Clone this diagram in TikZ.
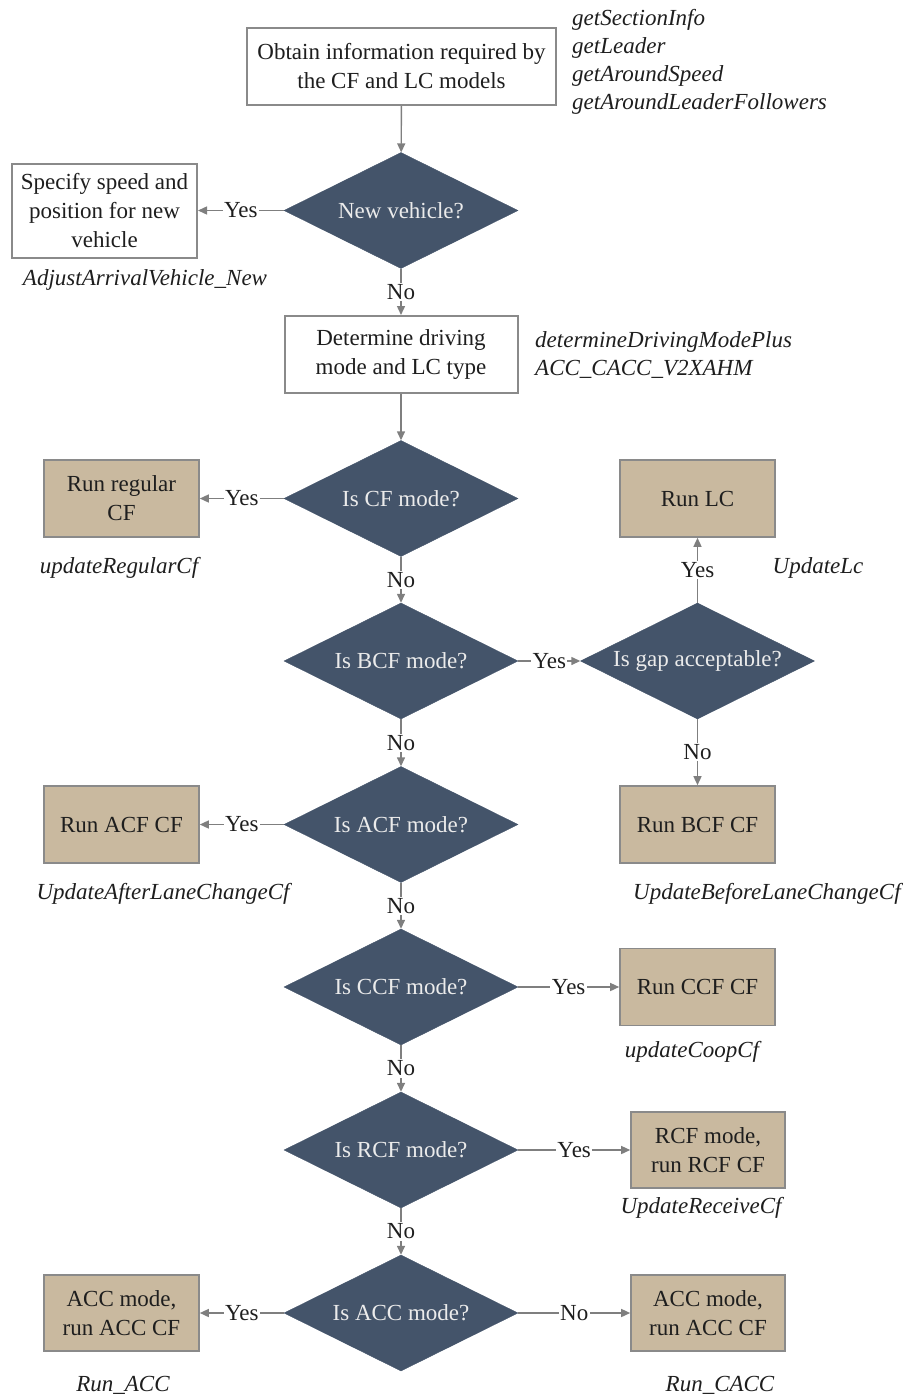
\documentclass[tikz,border=0pt]{standalone}
\usepackage{fontspec}
\setmainfont{Liberation Serif}
\usetikzlibrary{shapes.geometric,arrows.meta}
\definecolor{slate}{HTML}{44546A}
\definecolor{sand}{HTML}{C9B99F}
\definecolor{edgegray}{HTML}{8A8A8A}
\definecolor{linegray}{HTML}{7F7F7F}
\definecolor{inkgray}{HTML}{1E1E1E}

\begin{document}
\begin{tikzpicture}[x=1pt,y=-1pt,
  every node/.style={font=\fontsize{23}{29}\selectfont, text=inkgray},
  whitebox/.style={draw=edgegray, line width=2pt, fill=white, align=center, inner sep=0pt},
  sandbox/.style={draw=edgegray, line width=1.6pt, fill=sand, align=center, inner sep=0pt,
    minimum width=155pt, minimum height=77pt},
  decision/.style={diamond, fill=slate, draw=slate, inner sep=0pt, aspect=2,
    minimum width=234pt, minimum height=116pt, text=white!92!black},
  fname/.style={font=\fontsize{23}{28}\selectfont\itshape, align=left, inner sep=0pt},
  flow/.style={draw=linegray, line width=1.4pt,
    -{Triangle[length=9pt,width=8pt]}},
  lbl/.style={fill=white, inner sep=1.5pt}]

\useasboundingbox (0,0) rectangle (902,1397);

% processing boxes
\node[whitebox, minimum width=309pt, minimum height=77pt] (info) at (401.5,66.5)
  {Obtain information required by\\the CF and LC models};
\node[whitebox, minimum width=185pt, minimum height=94pt] (spec) at (104.5,210.5)
  {Specify speed and\\position for new\\vehicle};
\node[whitebox, minimum width=233pt, minimum height=77pt] (mode) at (401,354.5)
  {Determine driving\\mode and LC type};

% decisions
\node[decision] (d1) at (401,210.5) {New vehicle?};
\node[decision] (d2) at (401,498.5) {Is CF mode?};
\node[decision] (d3) at (401,661) {Is BCF mode?};
\node[decision] (d4) at (697.5,661) {Is gap acceptable?};
\node[decision] (d5) at (401,824.5) {Is ACF mode?};
\node[decision] (d6) at (401,987) {Is CCF mode?};
\node[decision] (d7) at (401,1150) {Is RCF mode?};
\node[decision] (d8) at (401,1313) {Is ACC mode?};

% car-following / lane-change actions
\node[sandbox] (regcf) at (121.5,498.5) {Run regular\\CF};
\node[sandbox] (lc) at (697.5,498.5) {Run LC};
\node[sandbox] (acf) at (121.5,824.5) {Run ACF CF};
\node[sandbox] (bcf) at (697.5,824.5) {Run BCF CF};
\node[sandbox] (ccf) at (697.5,987) {Run CCF CF};
\node[sandbox, minimum width=154pt, minimum height=76pt] (rcf) at (708,1150) {RCF mode,\\run RCF CF};
\node[sandbox, minimum height=76pt] (acc) at (121.5,1313) {ACC mode,\\run ACC CF};
\node[sandbox, minimum width=154pt, minimum height=76pt] (cacc) at (708,1313) {ACC mode,\\run ACC CF};

% function names
\node[fname, anchor=west] (fInfo) at (572,62)
  {getSectionInfo\\getLeader\\getAroundSpeed\\getAroundLeaderFollowers};
\node[fname] (fSpec) at (145,280) {AdjustArrivalVehicle\_New};
\node[fname, anchor=west] (fMode) at (535,354.5) {determineDrivingModePlus\\ACC\_CACC\_V2XAHM};
\node[fname] (fReg) at (119,568) {updateRegularCf};
\node[fname] (fLc) at (818,568) {UpdateLc};
\node[fname] (fAcf) at (163,894) {UpdateAfterLaneChangeCf};
\node[fname, anchor=west] (fBcf) at (633,894) {UpdateBeforeLaneChangeCf};
\node[fname] (fCcf) at (692,1052) {updateCoopCf};
\node[fname] (fRcf) at (701,1208) {UpdateReceiveCf};
\node[fname] (fAcc) at (123,1385) {Run\_ACC};
\node[fname] (fCacc) at (720,1385) {Run\_CACC};

% connectors
\draw[flow] (info) -- (d1);
\draw[flow] (d1) -- node[lbl] {Yes} (spec);
\draw[flow] (d1) -- node[lbl] {No} (mode);
\draw[flow] (mode) -- (d2);
\draw[flow] (d2) -- node[lbl] {Yes} (regcf);
\draw[flow] (d2) -- node[lbl] {No} (d3);
\draw[flow] (d3) -- node[lbl] {Yes} (d4);
\draw[flow] (d4) -- node[lbl] {Yes} (lc);
\draw[flow] (d4) -- node[lbl] {No} (bcf);
\draw[flow] (d3) -- node[lbl] {No} (d5);
\draw[flow] (d5) -- node[lbl] {Yes} (acf);
\draw[flow] (d5) -- node[lbl] {No} (d6);
\draw[flow] (d6) -- node[lbl] {Yes} (ccf);
\draw[flow] (d6) -- node[lbl] {No} (d7);
\draw[flow] (d7) -- node[lbl] {Yes} (rcf);
\draw[flow] (d7) -- node[lbl] {No} (d8);
\draw[flow] (d8) -- node[lbl] {Yes} (acc);
\draw[flow] (d8) -- node[lbl] {No} (cacc);

\end{tikzpicture}
\end{document}
